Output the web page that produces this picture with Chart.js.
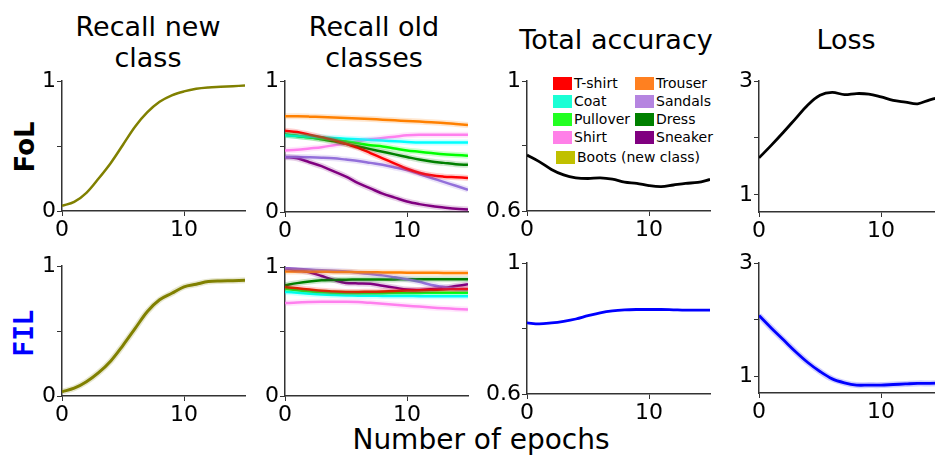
<!DOCTYPE html>
<html>
<head>
<meta charset="utf-8">
<script src="https://cdn.jsdelivr.net/npm/chart.js@4.4.1/dist/chart.umd.min.js"></script>
<style>
  body { margin: 0; width: 935px; height: 459px; overflow: hidden; background: #fff; position: relative; font-family: 'DejaVu Sans', sans-serif; }
  canvas { position: absolute; }
  .title { position: absolute; font-size: 27px; line-height: 31px; text-align: center; transform: translateX(-50%); white-space: nowrap; color: #000; }
  .rowlab { position: absolute; font-size: 26px; font-weight: bold; transform: translate(-50%, -50%) rotate(-90deg); white-space: nowrap; }
  .xlab { position: absolute; font-size: 28px; line-height: 28px; left: 481px; top: 426px; transform: translateX(-50%); white-space: nowrap; }
  .legend { position: absolute; left: 553px; top: 74px; font-size: 14px; line-height: 18px; }
  .legend .item { position: absolute; white-space: nowrap; }
  .legend .box { display: inline-block; width: 19px; height: 13px; vertical-align: -2px; margin-right: 2px; }
</style>
</head>
<body>
<div class="title" style="left:148px; top:11px;">Recall new<br>class</div>
<div class="title" style="left:374px; top:11px;">Recall old<br>classes</div>
<div class="title" style="left:616px; top:24px;">Total accuracy</div>
<div class="title" style="left:846px; top:24px;">Loss</div>
<div class="rowlab" style="left:25px; top:147px; color:#000;">FoL</div>
<div class="rowlab" style="left:24px; top:333px; color:#0000ff; font-family:'DejaVu Sans Mono', monospace;">FIL</div>
<div class="xlab">Number of epochs</div>
<div class="legend" id="legend"></div>

<canvas id="c1"></canvas>
<canvas id="c2"></canvas>
<canvas id="c3"></canvas>
<canvas id="c4"></canvas>
<canvas id="c5"></canvas>
<canvas id="c6"></canvas>
<canvas id="c7"></canvas>
<canvas id="c8"></canvas>

<script>
// epochs on the x axis
const epochs = [0, 1, 2, 3, 4, 5, 6, 7, 8, 9, 10, 11, 12, 13, 14, 15];
const xTicks = [0, 10];

// recall of the new class (Boots)
const recallNewFoL = [0.04, 0.07, 0.14, 0.25, 0.37, 0.51, 0.65, 0.76, 0.84, 0.89, 0.92, 0.94, 0.95, 0.955, 0.96, 0.965];
const recallNewFIL = [0.033, 0.06, 0.11, 0.18, 0.27, 0.39, 0.52, 0.65, 0.74, 0.79, 0.84, 0.86, 0.88, 0.885, 0.887, 0.89];

// recall of old classes, FoL
const classNames = ['T-shirt', 'Trouser', 'Coat', 'Sandals', 'Pullover', 'Dress', 'Shirt', 'Sneaker'];
const oldFoL = {
  'T-shirt':  [0.62, 0.61, 0.59, 0.57, 0.55, 0.52, 0.49, 0.45, 0.41, 0.37, 0.33, 0.30, 0.28, 0.27, 0.265, 0.26],
  'Trouser':  [0.73, 0.73, 0.728, 0.725, 0.722, 0.718, 0.714, 0.71, 0.705, 0.70, 0.695, 0.69, 0.685, 0.68, 0.672, 0.665],
  'Coat':     [0.585, 0.58, 0.575, 0.57, 0.565, 0.56, 0.555, 0.55, 0.545, 0.54, 0.535, 0.53, 0.53, 0.53, 0.53, 0.53],
  'Sandals':  [0.42, 0.42, 0.418, 0.415, 0.41, 0.40, 0.39, 0.375, 0.36, 0.34, 0.32, 0.29, 0.26, 0.23, 0.20, 0.17],
  'Pullover': [0.59, 0.58, 0.57, 0.56, 0.55, 0.54, 0.525, 0.51, 0.50, 0.485, 0.47, 0.46, 0.45, 0.44, 0.435, 0.43],
  'Dress':    [0.59, 0.58, 0.57, 0.555, 0.54, 0.52, 0.50, 0.48, 0.46, 0.44, 0.42, 0.40, 0.385, 0.375, 0.365, 0.36],
  'Shirt':    [0.47, 0.475, 0.485, 0.495, 0.51, 0.525, 0.54, 0.555, 0.565, 0.575, 0.585, 0.59, 0.59, 0.59, 0.59, 0.59],
  'Sneaker':  [0.42, 0.41, 0.38, 0.35, 0.31, 0.27, 0.22, 0.18, 0.14, 0.11, 0.08, 0.06, 0.045, 0.035, 0.025, 0.02]
};
// recall of old classes, FIL
const oldFIL = {
  'T-shirt':  [0.845, 0.835, 0.825, 0.815, 0.81, 0.807, 0.807, 0.808, 0.81, 0.813, 0.817, 0.82, 0.823, 0.826, 0.828, 0.83],
  'Trouser':  [0.965, 0.965, 0.964, 0.963, 0.962, 0.961, 0.96, 0.96, 0.958, 0.957, 0.956, 0.955, 0.955, 0.954, 0.953, 0.953],
  'Coat':     [0.807, 0.80, 0.793, 0.787, 0.783, 0.78, 0.778, 0.777, 0.776, 0.775, 0.775, 0.774, 0.774, 0.773, 0.773, 0.773],
  'Sandals':  [0.99, 0.985, 0.98, 0.975, 0.97, 0.965, 0.955, 0.945, 0.935, 0.92, 0.905, 0.885, 0.86, 0.845, 0.83, 0.825],
  'Pullover': [0.83, 0.82, 0.81, 0.805, 0.80, 0.798, 0.797, 0.797, 0.797, 0.798, 0.798, 0.799, 0.80, 0.80, 0.80, 0.80],
  'Dress':    [0.858, 0.875, 0.888, 0.897, 0.90, 0.902, 0.903, 0.903, 0.904, 0.904, 0.905, 0.905, 0.905, 0.905, 0.905, 0.905],
  'Shirt':    [0.72, 0.725, 0.728, 0.73, 0.73, 0.73, 0.728, 0.722, 0.715, 0.708, 0.70, 0.693, 0.686, 0.68, 0.675, 0.67],
  'Sneaker':  [0.99, 0.975, 0.96, 0.93, 0.90, 0.876, 0.873, 0.87, 0.855, 0.84, 0.825, 0.822, 0.828, 0.838, 0.852, 0.866]
};

// total accuracy and loss
const accFoL = [0.772, 0.752, 0.728, 0.711, 0.702, 0.70, 0.702, 0.698, 0.689, 0.685, 0.678, 0.675, 0.68, 0.685, 0.688, 0.697];
const accFIL = [0.817, 0.814, 0.817, 0.822, 0.829, 0.839, 0.848, 0.854, 0.857, 0.858, 0.858, 0.858, 0.857, 0.856, 0.856, 0.856];
const lossFoL = [1.65, 1.87, 2.10, 2.34, 2.58, 2.75, 2.80, 2.76, 2.78, 2.77, 2.72, 2.66, 2.63, 2.60, 2.67, 2.72];
const lossFIL = [2.07, 1.85, 1.64, 1.43, 1.24, 1.08, 0.95, 0.88, 0.84, 0.84, 0.84, 0.85, 0.86, 0.87, 0.87, 0.875];

// tick labels per y axis
const recallTicks = [0, 0.5, 1];
const recallLabels = ['0', '', '1'];
const accTicks = [0.6, 0.8, 1];
const accLabels = ['0.6', '', '1'];
const lossTicks = [1, 2, 3];
const lossLabels = ['1', '', '3'];

// colours
const lineColors = {
  'T-shirt': '#ff0000', 'Trouser': '#ff8000', 'Coat': '#00ffff', 'Sandals': '#9370db',
  'Pullover': '#00ff00', 'Dress': '#008000', 'Shirt': '#ff80ee', 'Sneaker': '#800080'
};
const legendColors = {
  'T-shirt': '#ff0000', 'Trouser': '#ff8020', 'Coat': '#1affd5', 'Sandals': '#b585e0',
  'Pullover': '#22ff22', 'Dress': '#008000', 'Shirt': '#ff80e8', 'Sneaker': '#800080'
};
const newClassColor = '#808000';

Chart.defaults.font.family = "'DejaVu Sans', sans-serif";
Chart.defaults.color = '#000';

function pts(vals) {
  return vals.map((v, i) => ({ x: epochs[i], y: v }));
}

function line(vals, color, width) {
  return {
    data: pts(vals),
    borderColor: color,
    borderWidth: width || 2.5,
    pointRadius: 0,
    fill: false,
    tension: 0.35
  };
}

// faint wider copy under a line, like the spread band
function band(vals, color) {
  const d = line(vals, color, 6);
  d.borderColor = color + '30';
  return d;
}

// plot area given as left, right, top, bottom in page pixels
function makePanel(id, area, yMin, yMax, yTicks, yLabels, datasets) {
  const [L, R, T, B] = area;
  const padTop = 15, axisW = 60, axisH = 40, padRight = 12;
  const cv = document.getElementById(id);
  cv.width = R - L + axisW + padRight;
  cv.height = B - T + padTop + axisH;
  cv.style.left = (L - axisW) + 'px';
  cv.style.top = (T - padTop) + 'px';

  new Chart(cv, {
    type: 'line',
    data: { datasets: datasets },
    options: {
      responsive: false,
      animation: false,
      layout: { padding: { top: padTop, right: padRight, left: 0, bottom: 0 } },
      plugins: { legend: { display: false }, tooltip: { enabled: false } },
      scales: {
        x: {
          type: 'linear', min: 0, max: 15,
          afterBuildTicks: axis => { axis.ticks = xTicks.map(v => ({ value: v })); },
          afterFit: axis => { axis.height = axisH; axis.paddingLeft = 0; axis.paddingRight = 0; },
          ticks: { font: { size: 22 }, color: '#000', padding: 1, maxRotation: 0 },
          grid: { drawOnChartArea: false, drawTicks: true, tickLength: 5, color: '#333' },
          border: { display: true, color: '#333', width: 1.5 }
        },
        y: {
          type: 'linear', min: yMin, max: yMax,
          afterBuildTicks: axis => { axis.ticks = yTicks.map(v => ({ value: v })); },
          afterFit: axis => { axis.width = axisW; axis.paddingTop = 0; axis.paddingBottom = 0; },
          ticks: {
            font: { size: 22 }, color: '#000', padding: 1,
            callback: (v) => { const i = yTicks.indexOf(v); return i >= 0 ? yLabels[i] : ''; }
          },
          grid: { drawOnChartArea: false, drawTicks: true, tickLength: 5, color: '#333' },
          border: { display: true, color: '#333', width: 1.5 }
        }
      }
    }
  });
}

function oldSets(src) {
  const bands = classNames.map(n => band(src[n], lineColors[n]));
  const lines = classNames.map(n => line(src[n], lineColors[n], 2.5));
  return bands.concat(lines);
}

// top row: FoL
makePanel('c1', [62, 245, 81, 211], 0, 1, recallTicks, recallLabels, [line(recallNewFoL, newClassColor, 2.5)]);
makePanel('c2', [285, 468, 81, 212], 0, 1, recallTicks, recallLabels, oldSets(oldFoL));
makePanel('c3', [527, 710, 81, 211], 0.6, 1, accTicks, accLabels, [line(accFoL, '#000', 2.8)]);
makePanel('c4', [759, 942, 81, 212], 0.7, 3, lossTicks, lossLabels, [line(lossFoL, '#000', 2.8)]);

// bottom row: FIL
makePanel('c5', [62, 245, 266, 396], 0, 1, recallTicks, recallLabels, [band(recallNewFIL, newClassColor), line(recallNewFIL, newClassColor, 3)]);
makePanel('c6', [285, 468, 267, 396], 0, 1, recallTicks, recallLabels, oldSets(oldFIL));
makePanel('c7', [527, 710, 263, 394], 0.6, 1, accTicks, accLabels, [line(accFIL, '#0000ff', 2.8)]);
makePanel('c8', [759, 942, 263, 393], 0.7, 3, lossTicks, lossLabels, [band(lossFIL, '#0000ff'), line(lossFIL, '#0000ff', 2.8)]);

// legend for the class colours
const legendLayout = [
  ['T-shirt', 0, 0], ['Trouser', 82, 0],
  ['Coat', 0, 1], ['Sandals', 82, 1],
  ['Pullover', 0, 2], ['Dress', 82, 2],
  ['Shirt', 0, 3], ['Sneaker', 82, 3]
];
const legend = document.getElementById('legend');
legendLayout.forEach(([name, dx, row]) => {
  const d = document.createElement('div');
  d.className = 'item';
  d.style.left = dx + 'px';
  d.style.top = (row * 18) + 'px';
  d.innerHTML = '<span class="box" style="background:' + legendColors[name] + '"></span>' + name;
  legend.appendChild(d);
});
const boots = document.createElement('div');
boots.className = 'item';
boots.style.left = '3px';
boots.style.top = (4 * 18.5) + 'px';
boots.innerHTML = '<span class="box" style="background:#c0c000"></span>Boots (new class)';
legend.appendChild(boots);
</script>
</body>
</html>
